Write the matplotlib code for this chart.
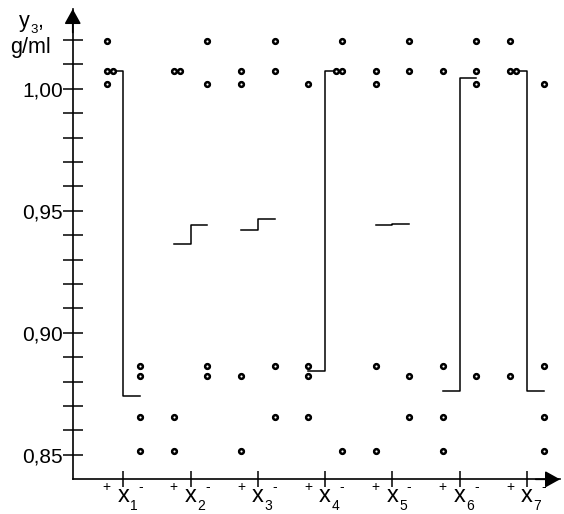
import matplotlib.pyplot as plt
import numpy as np
from matplotlib.transforms import blended_transform_factory

plt.rcParams['font.family'] = ['Liberation Sans', 'DejaVu Sans']

factors = ["1", "2", "3", "4", "5", "6", "7"]
# y3 (g/ml) of the runs with the factor at the upper (+) and lower (-) level
plus_vals = [
    [1.0195, 1.0071, 1.0071, 1.0018],
    [1.0071, 1.0071, 0.8656, 0.8516],
    [1.0071, 1.0018, 0.8824, 0.8516],
    [1.0018, 0.8866, 0.8824, 0.8656],
    [1.0071, 1.0018, 0.8866, 0.8516],
    [1.0071, 0.8866, 0.8656, 0.8516],
    [1.0195, 1.0071, 1.0071, 0.8824],
]
minus_vals = [
    [0.8866, 0.8824, 0.8656, 0.8516],
    [1.0195, 1.0018, 0.8866, 0.8824],
    [1.0195, 1.0071, 0.8866, 0.8656],
    [1.0195, 1.0071, 1.0071, 0.8516],
    [1.0195, 1.0071, 0.8824, 0.8656],
    [1.0195, 1.0071, 1.0018, 0.8824],
    [1.0018, 0.8866, 0.8656, 0.8516],
]

fig = plt.figure(figsize=(5.64, 5.14), dpi=100)
ax = fig.add_axes([0.129, 0.0675, 0.864, 0.915])

half = 0.25
dup_shift = 0.09
for i, (pv, mv) in enumerate(zip(plus_vals, minus_vals), start=1):
    # step line through the medians of each level
    mp, mm = np.median(pv), np.median(mv)
    ax.plot([i - half, i, i, i + half], [mp, mp, mm, mm], color='k', lw=1.1, zorder=2)
    for vals, xc, sgn in ((pv, i - half, 1), (mv, i + half, -1)):
        seen = []
        for v in vals:
            x = xc + sgn * dup_shift * seen.count(v)
            seen.append(v)
            ax.plot(x, v, 'o', ms=3.4, mfc='white', mec='k', mew=1.8, zorder=3)

ax.set_xlim(0.247, 7.495)
ax.set_ylim(0.840, 1.0327)

for s in ('top', 'right'):
    ax.spines[s].set_visible(False)
for s in ('left', 'bottom'):
    ax.spines[s].set_linewidth(1.2)

ax.set_yticks([0.85, 0.90, 0.95, 1.00])
ax.set_yticklabels(["0,85", "0,90", "0,95", "1,00"], fontsize=15)
ax.set_yticks(np.arange(0.85, 1.021, 0.01), minor=True)
ax.tick_params(axis='y', which='both', direction='inout', length=14, width=1.1, pad=0)
ax.set_xticks(range(1, 8))
ax.set_xticklabels([])
ax.tick_params(axis='x', direction='inout', length=11.5, width=1.1)

# axis arrows
arrow = dict(arrowstyle='-|>,head_length=0.45,head_width=0.25', color='k', lw=1.2,
             mutation_scale=20, shrinkA=0, shrinkB=0)
ax.annotate('', xy=(0, 1), xytext=(0, 0.95), xycoords='axes fraction', arrowprops=arrow)
ax.annotate('', xy=(1, 0), xytext=(0.95, 0), xycoords='axes fraction', arrowprops=arrow)

# x labels with level signs
tr = blended_transform_factory(ax.transData, ax.transAxes)
for i, f in enumerate(factors, start=1):
    ax.text(i - half, -0.016, "+", transform=tr, ha='center', va='center', fontsize=10)
    ax.text(i + half, -0.016, "-", transform=tr, ha='center', va='center', fontsize=10)
    ax.text(i, -0.036, "x", transform=tr, ha='center', va='center', fontsize=17)
    ax.text(i + 0.1, -0.057, f, transform=tr, ha='left', va='center', fontsize=10)

# y label
fig.text(0.033, 0.947, "y", ha='left', va='baseline', fontsize=15.5)
fig.text(0.054, 0.936, "3", ha='left', va='baseline', fontsize=9.5)
fig.text(0.066, 0.947, ",", ha='left', va='baseline', fontsize=15.5)
fig.text(0.054, 0.897, "g/ml", ha='center', va='baseline', fontsize=15.5)

fig.savefig("out.png", dpi=100)
